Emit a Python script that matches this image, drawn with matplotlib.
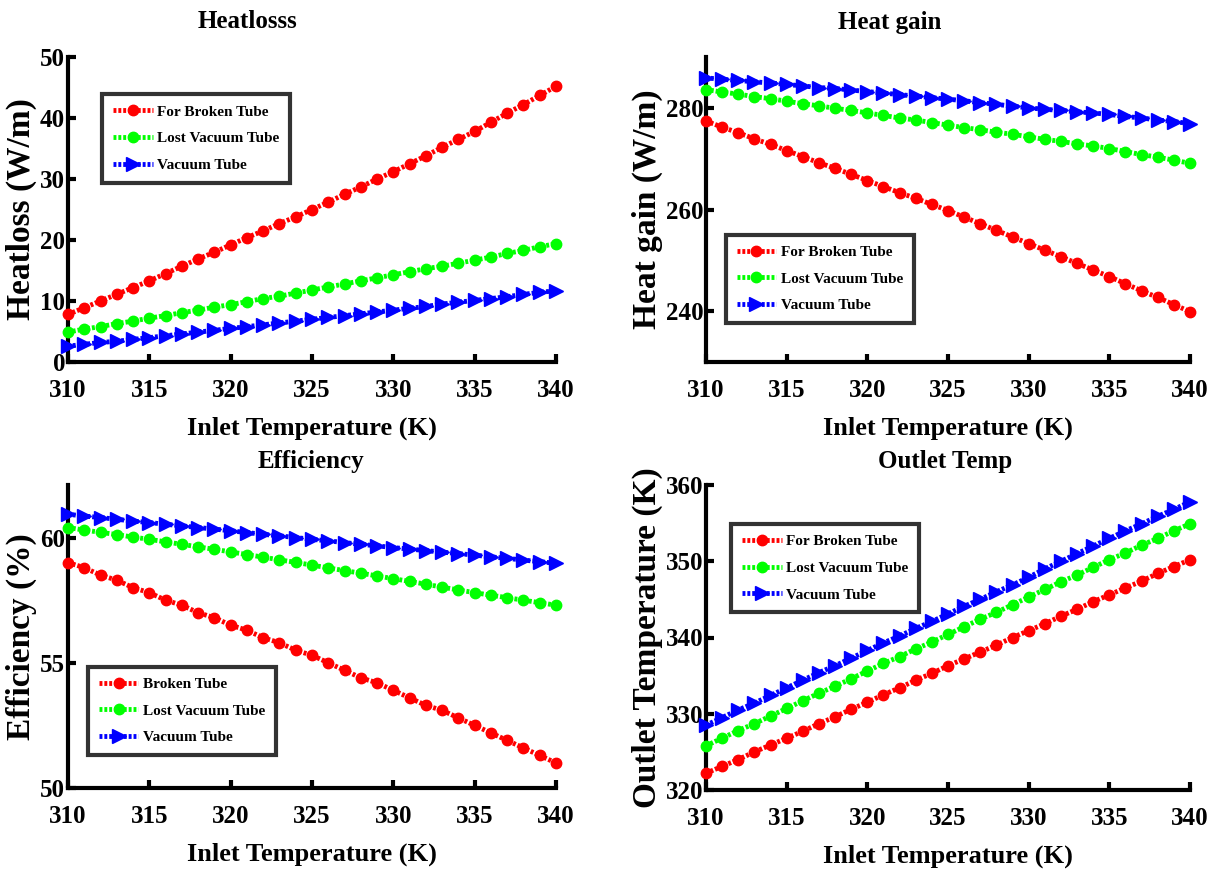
import matplotlib
matplotlib.use('Agg')
import matplotlib.pyplot as plt

# --- data ---
inlet_temp = list(range(310, 341))

heatloss_broken = [7.8, 8.9, 10.0, 11.1, 12.2, 13.3, 14.5, 15.7, 16.9, 18.0, 19.2,
                   20.4, 21.5, 22.7, 23.8, 25.0, 26.2, 27.5, 28.7, 30.0, 31.2,
                   32.5, 33.8, 35.2, 36.5, 37.8, 39.3, 40.8, 42.2, 43.7, 45.2]
heatloss_lost = [4.9, 5.4, 5.8, 6.3, 6.7, 7.2, 7.6, 8.1, 8.5, 9.0, 9.4,
                 9.9, 10.4, 10.8, 11.3, 11.8, 12.3, 12.8, 13.3, 13.8, 14.3,
                 14.8, 15.3, 15.7, 16.2, 16.7, 17.2, 17.8, 18.3, 18.9, 19.4]
heatloss_vacuum = [2.6, 2.9, 3.2, 3.4, 3.7, 4.0, 4.3, 4.6, 4.9, 5.2, 5.5,
                   5.8, 6.1, 6.4, 6.7, 7.0, 7.3, 7.6, 7.9, 8.2, 8.5,
                   8.8, 9.1, 9.5, 9.8, 10.1, 10.4, 10.7, 11.1, 11.4, 11.7]

gain_broken = [277.4, 276.2, 275.1, 273.9, 272.8, 271.6, 270.4, 269.2, 268.1, 266.9, 265.7,
               264.5, 263.3, 262.2, 261.0, 259.8, 258.5, 257.2, 255.9, 254.6, 253.3,
               252.0, 250.7, 249.4, 248.1, 246.8, 245.4, 244.0, 242.7, 241.3, 239.9]
gain_lost = [283.6, 283.1, 282.7, 282.2, 281.8, 281.3, 280.8, 280.4, 279.9, 279.5, 279.0,
             278.5, 278.0, 277.6, 277.1, 276.6, 276.1, 275.7, 275.2, 274.8, 274.3,
             273.8, 273.4, 272.9, 272.5, 272.0, 271.4, 270.8, 270.3, 269.7, 269.1]
gain_vacuum = [285.9, 285.6, 285.4, 285.1, 284.9, 284.6, 284.3, 284.0, 283.8, 283.5, 283.2,
               282.9, 282.6, 282.3, 282.0, 281.7, 281.4, 281.0, 280.7, 280.3, 280.0,
               279.7, 279.5, 279.2, 279.0, 278.7, 278.3, 278.0, 277.6, 277.3, 276.9]

eff_broken = [59.0, 58.8, 58.5, 58.3, 58.0, 57.8, 57.5, 57.3, 57.0, 56.8, 56.5,
              56.3, 56.0, 55.8, 55.5, 55.3, 55.0, 54.7, 54.4, 54.2, 53.9,
              53.6, 53.3, 53.1, 52.8, 52.5, 52.2, 51.9, 51.6, 51.3, 51.0]
eff_lost = [60.40, 60.30, 60.21, 60.12, 60.02, 59.93, 59.83, 59.73, 59.63, 59.53, 59.43,
            59.32, 59.22, 59.11, 59.01, 58.90, 58.79, 58.68, 58.58, 58.47, 58.36,
            58.25, 58.14, 58.02, 57.91, 57.80, 57.70, 57.60, 57.50, 57.40, 57.30]
eff_vacuum = [60.93, 60.86, 60.80, 60.73, 60.66, 60.60, 60.53, 60.47, 60.40, 60.34, 60.27,
              60.20, 60.13, 60.07, 60.00, 59.93, 59.87, 59.80, 59.73, 59.67, 59.60,
              59.54, 59.48, 59.42, 59.36, 59.30, 59.23, 59.17, 59.10, 59.04, 58.97]

outlet_broken = [322.2, 323.1, 324.0, 325.0, 325.9, 326.8, 327.7, 328.7, 329.6, 330.6, 331.5,
                 332.5, 333.4, 334.4, 335.3, 336.3, 337.2, 338.1, 339.0, 340.0, 340.9,
                 341.8, 342.8, 343.7, 344.7, 345.6, 346.5, 347.4, 348.4, 349.3, 350.2]
outlet_lost = [325.8, 326.8, 327.8, 328.7, 329.7, 330.7, 331.7, 332.7, 333.6, 334.6, 335.6,
               336.6, 337.5, 338.5, 339.4, 340.4, 341.4, 342.4, 343.3, 344.3, 345.3,
               346.3, 347.3, 348.2, 349.2, 350.2, 351.1, 352.1, 353.0, 354.0, 354.9]
outlet_vacuum = [328.5, 329.5, 330.5, 331.4, 332.4, 333.4, 334.4, 335.4, 336.3, 337.3, 338.3,
                 339.3, 340.2, 341.2, 342.1, 343.1, 344.1, 345.0, 346.0, 346.9, 347.9,
                 349.0, 350.0, 351.0, 352.0, 353.0, 354.0, 354.9, 355.9, 356.8, 357.8]

labels_for = ['For Broken Tube', 'Lost Vacuum Tube', 'Vacuum Tube']
labels_eff = ['Broken Tube', 'Lost Vacuum Tube', 'Vacuum Tube']

plt.rcParams['font.family'] = 'Liberation Serif'
plt.rcParams['font.weight'] = 'bold'

fig = plt.figure(figsize=(12.18, 8.69), dpi=100)
W, H = 1218, 869


def add_ax(l, r, t, b):
    return fig.add_axes([l / W, 1 - b / H, (r - l) / W, (b - t) / H])


panels = [
    # axes box, title, title x/y (px), ylabel, series, labels, ylim, yticks, legend loc, anchor
    ((68, 556, 57, 362), 'Heatlosss', (247, 22), 'Heatloss (W/m)',
     (heatloss_broken, heatloss_lost, heatloss_vacuum), labels_for,
     (0, 50), [0, 10, 20, 30, 40, 50], 'upper left', (0.07, 0.878)),
    ((706, 1190, 57, 362), 'Heat gain', (890, 22), 'Heat gain (W/m)',
     (gain_broken, gain_lost, gain_vacuum), labels_for,
     (230, 290), [240, 260, 280], 'lower left', (0.041, 0.128)),
    ((68, 556, 485, 788), 'Efficiency', (311, 462), 'Efficiency (%)',
     (eff_broken, eff_lost, eff_vacuum), labels_eff,
     (50, 62.1), [50, 55, 60], 'lower left', (0.041, 0.109)),
    ((706, 1190, 485, 790), 'Outlet Temp', (945, 462), 'Outlet Temperature (K)',
     (outlet_broken, outlet_lost, outlet_vacuum), labels_for,
     (320, 360), [320, 330, 340, 350, 360], 'upper left', (0.052, 0.872)),
]

colors = ['#ff0000', '#00ff00', '#0000ff']
markers = ['o', 'o', '>']
msizes = [7.5, 7.5, 10]

for box, title, tpos, ylab, series, labs, ylim, yticks, loc, anchor in panels:
    ax = add_ax(*box)
    for vals, c, m, ms, lab in zip(series, colors, markers, msizes, labs):
        ax.plot(inlet_temp, vals, color=c, linestyle=(0, (0.6, 0.4)), linewidth=3.5,
                marker=m, markersize=ms, markerfacecolor=c, markeredgecolor=c,
                label=lab, clip_on=False, zorder=3)
    ax.set_xlim(310, 340)
    ax.set_ylim(*ylim)
    ax.set_xticks([310, 315, 320, 325, 330, 335, 340])
    ax.set_yticks(yticks)
    ax.spines['top'].set_visible(False)
    ax.spines['right'].set_visible(False)
    ax.spines['left'].set_linewidth(3)
    ax.spines['bottom'].set_linewidth(3)
    ax.tick_params(direction='in', length=6, width=3, labelsize=18)
    ax.tick_params(axis='x', pad=12)
    ax.tick_params(axis='y', pad=2)
    for t in ax.get_xticklabels() + ax.get_yticklabels():
        t.set_fontweight('bold')
    fig.text(tpos[0] / W, 1 - tpos[1] / H, title, fontsize=18, fontweight='bold',
             ha='center', va='center')
    ax.set_xlabel('Inlet Temperature (K)', fontsize=19, fontweight='bold', labelpad=11)
    ax.set_ylabel(ylab, fontsize=24, fontweight='bold', labelpad=2)
    leg = ax.legend(loc=loc, bbox_to_anchor=anchor, fontsize=11, frameon=True,
                    fancybox=False, handlelength=2.6, handletextpad=0.3,
                    borderpad=0.7, labelspacing=0.85, borderaxespad=0)
    leg.get_frame().set_edgecolor('black')
    leg.get_frame().set_linewidth(3)
    for t in leg.get_texts():
        t.set_fontweight('bold')

fig.savefig('out.png', dpi=100, facecolor='white')
